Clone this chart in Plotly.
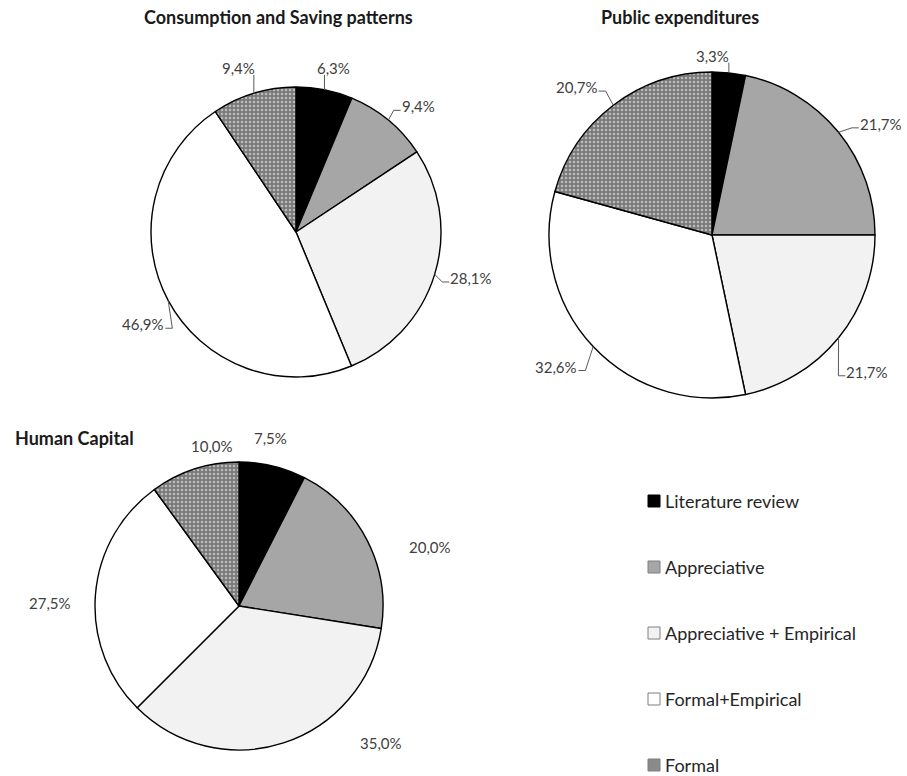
import math
import plotly.graph_objects as go

# ---- data -------------------------------------------------------------
categories = ["Literature review", "Appreciative", "Appreciative + Empirical",
              "Formal+Empirical", "Formal"]
consumption_saving = [6.3, 9.4, 28.1, 46.9, 9.4]
public_expenditures = [3.3, 21.7, 21.7, 32.6, 20.7]
human_capital = [7.5, 20.0, 35.0, 27.5, 10.0]
panel_titles = ["Consumption and Saving patterns", "Public expenditures", "Human Capital"]

# ---- styling ----------------------------------------------------------
W, H = 907, 776
FONT = "Lato"
LABEL_SIZE = 15
slice_colors = ["#000000", "#a6a6a6", "#f2f2f2", "#ffffff", "#7f7f7f"]
slice_patterns = ["", "", "", "", "."]
label_color = "#404040"
leader_color = "#595959"

# pie geometry in pixels, plus per-label placement (angle nudge in degrees,
# distance from centre as a multiple of the radius) and title placement
panels = [
    dict(values=consumption_saving, cx=296, cy=232, r=145,
         nudge=[1.4, 4.7, -2.3, -3, -2.5], dist=[1.16, 1.21, 1.25, 1.23, 1.2],
         leaders=True, title_xy=(278, 17), title_anchor="center"),
    dict(values=public_expenditures, cx=712, cy=235, r=163,
         nudge=[-5.9, 5.7, 2.3, 3, -5.2], dist=[1.1, 1.24, 1.27, 1.25, 1.23],
         leaders=True, title_xy=(680, 17), title_anchor="center"),
    dict(values=human_capital, cx=239, cy=606, r=144,
         nudge=[-2.8, 10, -28, -3.6, 8.5], dist=[1.19, 1.39, 1.37, 1.31, 1.13],
         leaders=False, title_xy=(13, 438), title_anchor="left"),
]


def px(x):
    return x / W


def py(y):
    return 1 - y / H


def fmt(v):
    return f"{v:.1f}%".replace(".", ",")


def line(x0, y0, x1, y1):
    return dict(type="line", xref="paper", yref="paper",
                x0=px(x0), y0=py(y0), x1=px(x1), y1=py(y1),
                line=dict(color=leader_color, width=1))


fig = go.Figure()
annotations = []
shapes = []

for p, title in zip(panels, panel_titles):
    cx, cy, r = p["cx"], p["cy"], p["r"]
    fig.add_trace(go.Pie(
        values=p["values"], labels=categories, sort=False,
        direction="clockwise", rotation=0, textinfo="none",
        hovertemplate="%{label}: %{value:.1f}%<extra></extra>",
        marker=dict(colors=slice_colors,
                    line=dict(color="#000000", width=1.4),
                    pattern=dict(shape=slice_patterns, fgcolor="#bdbdbd",
                                 bgcolor="#7a7a7a", size=4, solidity=0.3)),
        domain=dict(x=[px(cx - r), px(cx + r)], y=[py(cy + r), py(cy - r)]),
        showlegend=False,
    ))

    total = sum(p["values"])
    cum = 0.0
    for i, v in enumerate(p["values"]):
        mid = (cum + v / 2) / total * 360.0
        cum += v
        ang = math.radians(mid + p["nudge"][i])
        d = p["dist"][i] * r
        lx, ly = cx + d * math.sin(ang), cy - d * math.cos(ang)
        text = fmt(v)
        annotations.append(dict(
            x=px(lx), y=py(ly), xref="paper", yref="paper",
            text=text, showarrow=False,
            font=dict(family=FONT, size=LABEL_SIZE, color=label_color),
            xanchor="center", yanchor="middle"))
        if p["leaders"]:
            m = math.radians(mid)
            ax, ay = cx + r * math.sin(m), cy - r * math.cos(m)
            half_w = len(text) * 4.2
            if abs(lx - ax) < 20:
                # label sits straight above the slice: plain vertical leader
                shapes.append(line(ax, ay, ax, ly + 7))
            else:
                side = 1 if lx > ax else -1
                edge = lx - side * (half_w + 1)
                elbow = edge - side * 7
                shapes.append(line(ax, ay, elbow, ly + 4))
                shapes.append(line(elbow, ly + 4, edge, ly + 4))

    tx, ty = p["title_xy"]
    annotations.append(dict(
        x=px(tx), y=py(ty), xref="paper", yref="paper",
        text=f"<b>{title}</b>", showarrow=False,
        font=dict(family=FONT, size=18, color="#1a1a1a"),
        xanchor=p["title_anchor"], yanchor="middle"))

# ---- legend, drawn as swatches and text ---------------------------------
legend_x, legend_y0, legend_step, sw = 648, 501, 66, 12
for i, name in enumerate(categories):
    y = legend_y0 + i * legend_step
    fill = slice_colors[i] if i != 4 else "#8a8a8a"
    shapes.append(dict(type="rect", xref="paper", yref="paper",
                       x0=px(legend_x), x1=px(legend_x + sw),
                       y0=py(y + sw / 2), y1=py(y - sw / 2),
                       fillcolor=fill,
                       line=dict(color="#7f7f7f" if i else "#000000", width=1)))
    annotations.append(dict(
        x=px(legend_x + sw + 3), y=py(y), xref="paper", yref="paper",
        text=name, showarrow=False,
        font=dict(family=FONT, size=18, color="#262626"),
        xanchor="left", yanchor="middle"))

fig.update_layout(
    width=W, height=H,
    margin=dict(l=0, r=0, t=0, b=0),
    paper_bgcolor="#ffffff", plot_bgcolor="#ffffff",
    annotations=annotations, shapes=shapes,
    showlegend=False,
)

fig.write_html("out.html")
